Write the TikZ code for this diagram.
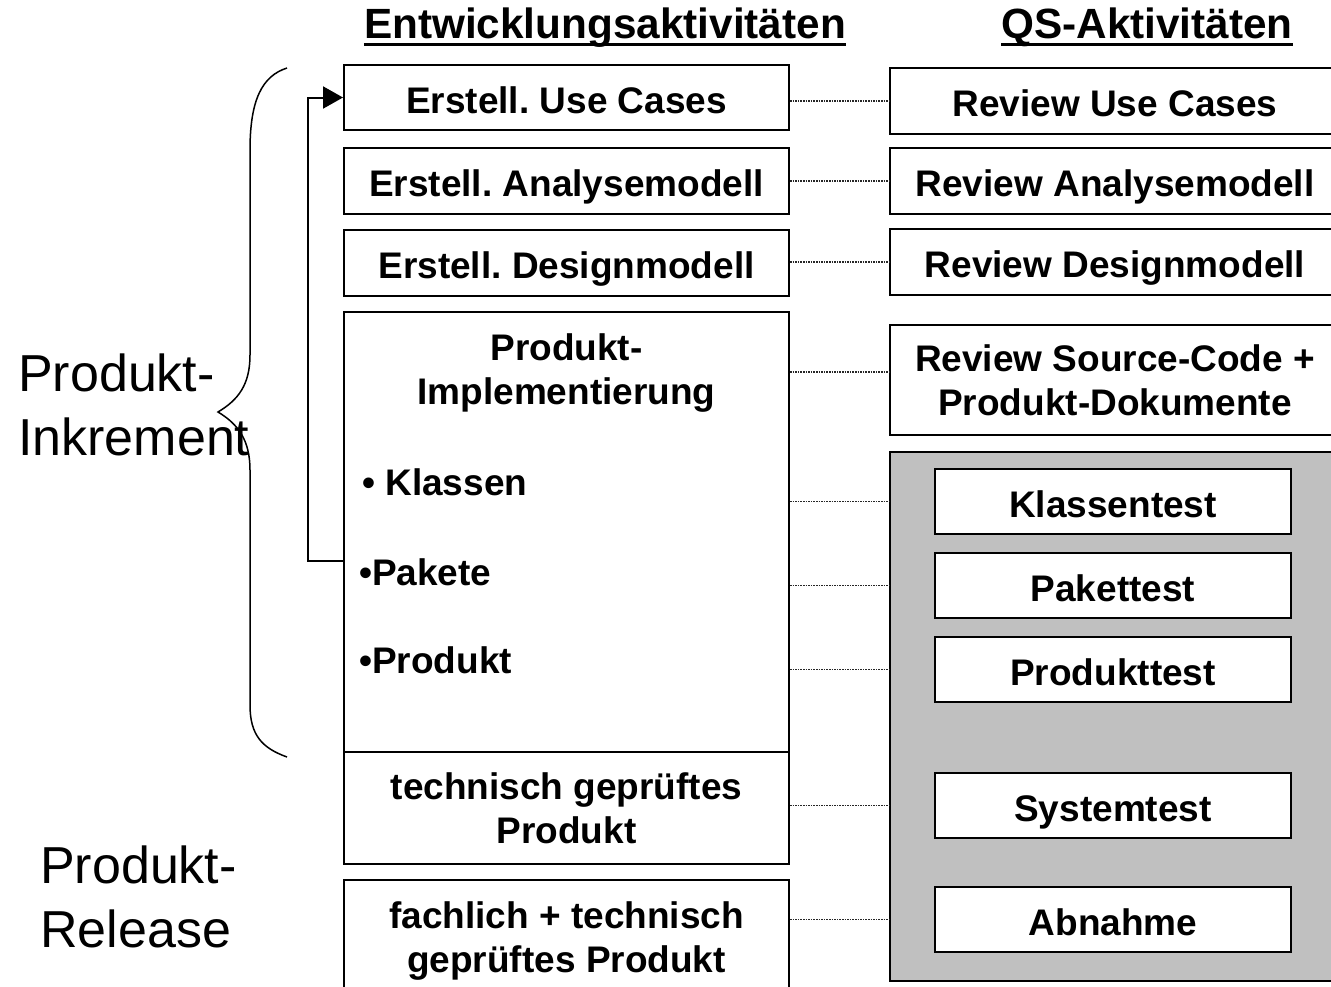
\documentclass[tikz,border=0pt]{standalone}
\usepackage{fontspec}
\setmainfont{Liberation Sans}
\usetikzlibrary{arrows.meta}
\definecolor{qsgray}{RGB}{192,192,192}
\frenchspacing
\newcommand{\boxstrut}{\rule[-9pt]{0pt}{49.5pt}}
\tikzset{
    box/.style={draw,line width=2pt,fill=white,align=center,inner sep=0pt,font=\bfseries\fontsize{37}{44}\selectfont},
    single/.style={execute at begin node=\boxstrut,execute at end node=\boxstrut},
    devbox/.style={box,minimum width=445pt},
    qsbox/.style={box,minimum width=450pt},
    testbox/.style={box,single,minimum width=356pt,minimum height=65pt},
    txt/.style={inner sep=0pt,align=center,font=\bfseries\fontsize{37}{44}\selectfont},
    item/.style={inner sep=0pt,anchor=base west,font=\bfseries\fontsize{37}{44}\selectfont},
    hdr/.style={inner sep=0pt,anchor=base,font=\bfseries\fontsize{42.3}{50}\selectfont},
    side/.style={inner sep=0pt,anchor=north west,align=left,font=\fontsize{52}{64}\selectfont},
    link/.style={line width=1.4pt,dash pattern=on 1.6pt off 1pt,black!85},
    back/.style={line width=2pt,-{Triangle[length=20pt,width=22pt]}},
}

\begin{document}
\begin{tikzpicture}[x=1pt,y=-1pt]
    \clip (0,0) rectangle (1331,986);
    \fill[white] (0,0) rectangle (1331,986);
    % headers
    \node[hdr] (dev) at (605,38) {Entwicklungsaktivitäten};
    \node[hdr] (qsh) at (1147,38) {QS-Aktivitäten};
    \draw[line width=3pt] ([yshift=-6pt]dev.base west) -- ([yshift=-6pt]dev.base east);
    \draw[line width=3pt] ([yshift=-6pt]qsh.base west) -- ([yshift=-6pt]qsh.base east);
    % left labels
    \node[side] (inc) at (18,354) {Produkt-\\Inkrement};
    \node[side] (rel) at (40,846) {Produkt-\\Release};
    % development side
    \node[devbox,single,minimum height=65pt] (uc) at (566.5,97.5) {Erstell. Use Cases};
    \node[devbox,single,minimum height=66pt] (am) at (566.5,181) {Erstell. Analysemodell};
    \node[devbox,single,minimum height=66pt] (dm) at (566.5,263) {Erstell. Designmodell};
    \node[devbox,minimum height=440pt] (impl) at (566.5,532) {};
    \node[devbox,minimum height=112pt] (tgp) at (566.5,808) {technisch geprüftes\\Produkt};
    \node[devbox,minimum height=122pt] (ftp) at (566.5,941) {fachlich + technisch\\geprüftes Produkt};
    \node[txt,anchor=north] (implt) at ([yshift=-22pt]impl.north) {Produkt-\\Implementierung};
    \node[item] (kl) at (362,495) {• Klassen};
    \node[item] (pk) at (359,585) {•Pakete};
    \node[item] (pr) at (359,673) {•Produkt};
    % QS side
    \node[qsbox,single,minimum height=66pt] (ruc) at (1115,101) {Review Use Cases};
    \node[qsbox,single,minimum height=66pt] (ram) at (1115,181) {Review Analysemodell};
    \node[qsbox,single,minimum height=66pt] (rdm) at (1115,262) {Review Designmodell};
    \node[qsbox,minimum height=110pt] (rsc) at (1115,380) {Review Source-Code +\\Produkt-Dokumente};
    \node[draw,line width=2pt,fill=qsgray,inner sep=0pt,minimum width=455pt,minimum height=529pt] (qs) at (1117.5,716.5) {};
    \node[testbox] (kt) at (1113,501.5) {Klassentest};
    \node[testbox] (pt) at (1113,585.5) {Pakettest};
    \node[testbox] (prt) at (1113,669.5) {Produkttest};
    \node[testbox] (st) at (1113,805.5) {Systemtest};
    \node[testbox] (ab) at (1113,919.5) {Abnahme};
    % links
    \draw[link] (uc.east |- ruc.west) -- (ruc.west);
    \draw[link] (am.east) -- (ram.west);
    \draw[link] (dm.east |- rdm.west) -- (rdm.west);
    \draw[link] ([yshift=8pt]impl.east |- rsc.west) -- ([yshift=8pt]rsc.west);
    \draw[link] (impl.east |- kt) -- (qs.west |- kt);
    \draw[link] (impl.east |- pt) -- (qs.west |- pt);
    \draw[link] (impl.east |- prt) -- (qs.west |- prt);
    \draw[link] (tgp.east |- st) -- (qs.west |- st);
    \draw[link] (ftp.east |- ab) -- (qs.west |- ab);
    % iteration back to use cases
    \coordinate (ret) at (308,561);
    \draw[back] (impl.west |- ret) -- (ret) |- (uc.west);
    % brace
    \draw[line width=1.5pt] (287,68) .. controls (262,76) and (250,100) .. (250,150) -- (250,355)
        .. controls (250,385) and (238,400) .. (218,412) .. controls (238,424) and (250,440) .. (250,470)
        -- (250,705) .. controls (250,735) and (262,748) .. (287,757);
\end{tikzpicture}
\end{document}
